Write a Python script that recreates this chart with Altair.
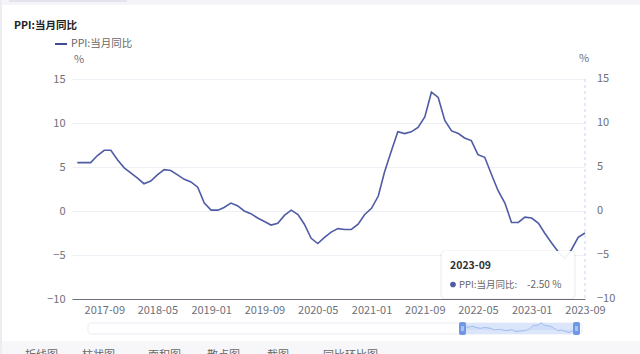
import altair as alt
import pandas as pd

FONT = "Noto Sans CJK SC"
LINE = "#4f5ba5"
AXIS_TXT = "#6e7079"

# ---- data ----
months = (
    [f"2017-{m:02d}-01" for m in range(5, 13)]
    + [f"{y}-{m:02d}-01" for y in range(2018, 2023) for m in range(1, 13)]
    + [f"2023-{m:02d}-01" for m in range(1, 10)]
)
values = [
    5.5, 5.5, 5.5, 6.3, 6.9, 6.9, 5.8, 4.9,
    4.3, 3.7, 3.1, 3.4, 4.1, 4.7, 4.6, 4.1, 3.6, 3.3, 2.7, 0.9,
    0.1, 0.1, 0.4, 0.9, 0.6, 0.0, -0.3, -0.8, -1.2, -1.6, -1.4, -0.5,
    0.1, -0.4, -1.5, -3.1, -3.7, -3.0, -2.4, -2.0, -2.1, -2.1, -1.5, -0.4,
    0.3, 1.7, 4.4, 6.8, 9.0, 8.8, 9.0, 9.5, 10.7, 13.5, 12.9, 10.3,
    9.1, 8.8, 8.3, 8.0, 6.4, 6.1, 4.2, 2.3, 0.9, -1.3, -1.3, -0.7,
    -0.8, -1.4, -2.5, -3.6, -4.6, -5.4, -4.4, -3.0, -2.5,
]
y_ticks = [-10, -5, 0, 5, 10, 15]
x_tick_months = [(2017, 9), (2018, 5), (2019, 1), (2019, 9), (2020, 5),
                 (2021, 1), (2021, 9), (2022, 5), (2023, 1), (2023, 9)]
title_text = "PPI:当月同比"
series_name = "PPI:当月同比"
tip_month = "2023-09"
tip_value = "-2.50 %"
toolbar_items = [("折线图", 25), ("柱状图", 82), ("面积图", 148), ("散点图", 207),
                 ("截图", 267), ("同比环比图", 323)]

df = pd.DataFrame({"month": months, "value": values})
one = pd.DataFrame({"a": [0]})

# plot area: abs x 72..585, y 79..299
L, T = 72, 79
W, H = 513, 220

xscale = alt.Scale(domain=[alt.DateTime(year=2017, month=4, date=7),
                           alt.DateTime(year=2023, month=9, date=1)], nice=False)
yscale = alt.Scale(domain=[-10, 15], nice=False)

xaxis = alt.Axis(values=[alt.DateTime(year=y, month=m, date=1) for y, m in x_tick_months],
                 format="%Y-%m", title=None, grid=False, ticks=False,
                 domainColor="#6e7079", domainWidth=1, labelColor=AXIS_TXT,
                 labelFont=FONT, labelFontSize=11, labelPadding=5,
                 labelFlush=False, labelOverlap=False, labelBound=False)
yaxis = alt.Axis(values=y_ticks, title=None, grid=True, gridColor="#eef0f5",
                 domain=False, ticks=False, labelColor=AXIS_TXT, labelFont=FONT,
                 labelFontSize=11, labelPadding=7)

X = alt.X("month:T", scale=xscale, axis=xaxis)
Y = alt.Y("value:Q", scale=yscale, axis=yaxis)


def rect(x1, x2, y1, y2, **kw):
    return alt.Chart(one).mark_rect(**kw).encode(
        x=alt.value(x1 - L), x2=alt.value(x2 - L),
        y=alt.value(y1 - T), y2=alt.value(y2 - T))


def text(s, x, y, **kw):
    base = dict(font=FONT, fontSize=10.5, baseline="middle", align="left")
    base.update(kw)
    return alt.Chart(one).mark_text(**base).encode(
        x=alt.value(x - L), y=alt.value(y - T), text=alt.value(s))


# background decorations
bg = [
    rect(0, 640, 0, 5, color="#f4f4f9"),
    rect(9, 127, 0, 2, color="#e3e3ee"),
    rect(0, 2, 0, 354, color="#ececf1"),
    rect(2, 640, 341, 354, color="#f7f7fa"),
]

pointer = alt.Chart(pd.DataFrame({"month": ["2023-09-01"]})).mark_rule(
    color="#c8d5f0", strokeDash=[3, 3], strokeWidth=1).encode(
    x=alt.X("month:T", scale=xscale, axis=xaxis),
    y=alt.value(0), y2=alt.value(H))

line = alt.Chart(df).mark_line(color=LINE, strokeWidth=1.6).encode(x=X, y=Y)

right_labels = alt.Chart(pd.DataFrame({"value": y_ticks})).mark_text(
    align="left", baseline="middle", font=FONT, fontSize=11, color=AXIS_TXT).encode(
    x=alt.value(597 - L), y=Y, text=alt.Text("value:Q", format="d"))

texts = [
    text(title_text, 14, 26, fontWeight="bold", color="#222222"),
    alt.Chart(one).mark_rule(color="#3f4b95", strokeWidth=2).encode(
        x=alt.value(55 - L), x2=alt.value(67 - L), y=alt.value(44 - T)),
    text(series_name, 71, 44, color="#666666"),
    text("%", 79, 59.5, align="center", color=AXIS_TXT, fontSize=11),
    text("%", 584, 58.5, align="center", color=AXIS_TXT, fontSize=11),
]

# slider
slider = [
    rect(88, 582, 323, 334, color="#ffffff", stroke="#e9ecf3", strokeWidth=1, cornerRadius=3),
    rect(465, 574, 323, 334, color="#dce6fa"),
    rect(459, 466, 322, 335, color="#7097e6", cornerRadius=2),
    rect(573, 580, 322, 335, color="#7097e6", cornerRadius=2),
    rect(461, 464, 326, 331, color="#a9c1f0"),
    rect(575, 578, 326, 331, color="#a9c1f0"),
]

# tooltip
tooltip = [
    rect(440, 576, 250, 300, color="#000000", opacity=0.04, cornerRadius=5),
    rect(442, 574, 251, 298, color="#ffffff", opacity=0.93, cornerRadius=4),
    text(tip_month, 450, 266, fontWeight="bold", fontSize=10.5, color="#333333"),
    alt.Chart(one).mark_circle(color=LINE, size=32, opacity=1).encode(
        x=alt.value(453 - L), y=alt.value(284.5 - T)),
    text(series_name + ":", 459, 285, fontSize=9.5, color="#666666"),
    text(tip_value, 527, 285, fontSize=10, color="#666666"),
]

toolbar = [text(s, x, 350, baseline="top", color="#666666", fontSize=11)
           for s, x in toolbar_items]

main = alt.layer(*bg, pointer, line, right_labels, *texts, *slider, *tooltip, *toolbar)

# data shadow inside slider selection (own scales)
sx = alt.Scale(domain=[alt.DateTime(year=2017, month=5, date=1),
                       alt.DateTime(year=2023, month=9, date=1)],
               range=[466 - L, 573 - L], nice=False)
sy = alt.Scale(domain=[-8.2, 13.5], range=[334 - T, 323 - T], nice=False, zero=False)
shadow = alt.layer(
    alt.Chart(df).mark_area(color="#b8cbf3", opacity=0.35).encode(
        x=alt.X("month:T", scale=sx, axis=None),
        y=alt.Y("value:Q", scale=sy, axis=None),
        y2=alt.value(334 - T)),
    alt.Chart(df).mark_line(color="#8fb0f0", strokeWidth=0.8).encode(
        x=alt.X("month:T", scale=sx, axis=None),
        y=alt.Y("value:Q", scale=sy, axis=None)),
)

chart = alt.layer(main, shadow).resolve_scale(x="independent", y="independent").properties(
    width=W, height=H,
    padding={"left": L, "top": T, "right": 640 - L - W, "bottom": 354 - T - H},
    autosize=alt.AutoSizeParams(type="none"),
    background="#ffffff",
).configure_view(stroke=None)

chart.save("out.html", embed_options={"renderer": "svg", "actions": False})
